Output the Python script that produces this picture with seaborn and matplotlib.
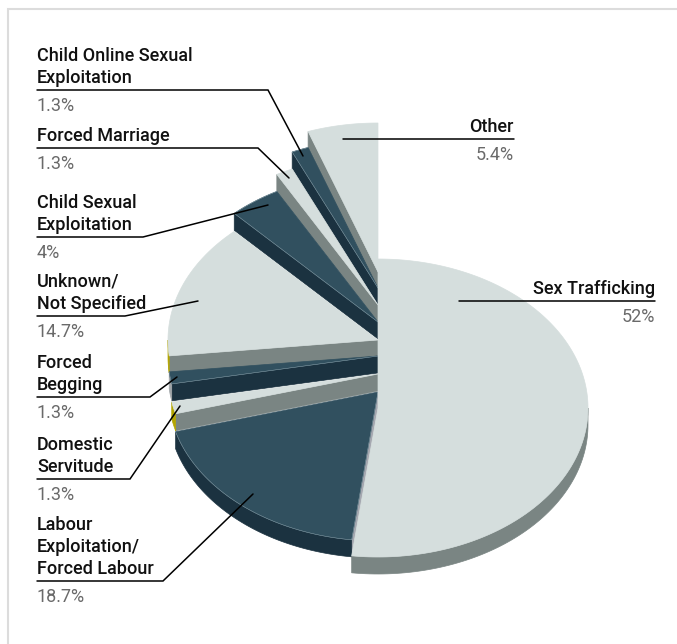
import numpy as np
import seaborn as sns
import matplotlib
matplotlib.use("Agg")
import matplotlib.pyplot as plt

sns.set_theme(style="white")
plt.rcParams["font.family"] = ["Roboto", "DejaVu Sans"]

# Shares in drawing order, clockwise from twelve o'clock
categories = ["Sex Trafficking", "Labour\nExploitation/\nForced Labour", "Domestic\nServitude",
              "Forced\nBegging", "Unknown/\nNot Specified", "Child Sexual\nExploitation",
              "Forced Marriage", "Child Online Sexual\nExploitation", "Other"]
shares = [52, 18.7, 1.3, 1.3, 14.7, 4, 1.3, 1.3, 5.4]
value_labels = ["52%", "18.7%", "1.3%", "1.3%", "14.7%", "4%", "1.3%", "1.3%", "5.4%"]

LIGHT, BLUE, GREY, DARK = "#d5dedd", "#31505f", "#7a8583", "#1b3240"
YELLOW, LILAC, EDGE = "#b3a500", "#a5a8b0", "#a0a5a8"

# Per-slice styling: top face, radial side, outer rim, apex height of the exploded wedge
top_colors = sns.color_palette([LIGHT, BLUE, LIGHT, BLUE, LIGHT, BLUE, LIGHT, BLUE, LIGHT])
side_colors = [GREY, LILAC, GREY, DARK, GREY, DARK, GREY, DARK, GREY]
rim_colors = [GREY, DARK, YELLOW, EDGE, YELLOW, DARK, GREY, DARK, GREY]
apex_y = [408, 392, 374, 356, 340, 322, 305, 288, 272]

APEX_X, RX, RY, DEPTH = 378, 210, 149, 17
SEAM = 0.5


def arc(a0, a1, y0, n=80):
    """Projected circle arc, angles in degrees clockwise from the top."""
    t = np.radians(np.linspace(a0, a1, n))
    return APEX_X + RX * np.sin(t), y0 - RY * np.cos(t)


def face(xs, ys, color, z):
    ax.fill(xs, ys, facecolor=color, edgecolor=color, lw=SEAM, zorder=z)


fig = plt.figure(figsize=(6.77, 6.44), dpi=100, facecolor="white")
ax = fig.add_axes([0, 0, 1, 1])
ax.set_xlim(0, 677)
ax.set_ylim(644, 0)
ax.axis("off")

# Frame along the top and left only
ax.plot([7.5, 7.5, 677], [644, 8.5, 8.5], color="#dcdcdc", lw=1.5, zorder=0,
        solid_joinstyle="miter")

# Wedge bounds derived from the shares
ends = np.cumsum(shares) * 3.6
starts = np.r_[0, ends[:-1]]

# Painted from the rear wedge to the front one
for i in range(len(shares) - 1, 0, -1):
    a0, a1, y0 = starts[i], ends[i], apex_y[i]
    z = 2 + (9 - i) * 2
    ex, ey = arc(a0, a0, y0, 2)
    face([APEX_X, ex[0], ex[0], APEX_X], [y0, ey[0], ey[0] + DEPTH, y0 + DEPTH], side_colors[i], z)
    # Outer rim, only where the arc faces the viewer
    hi = min(a1, 270)
    if a0 < hi:
        rx, ry = arc(a0, hi, y0)
        face(np.r_[rx, rx[::-1]], np.r_[ry, ry[::-1] + DEPTH], rim_colors[i], z)
    tx, ty = arc(a0, a1, y0)
    face(np.r_[APEX_X, tx], np.r_[y0, ty], top_colors[i], z + 1)
    if side_colors[i] in (DARK, LILAC):
        # Faint highlight along the outline of the blue faces
        ax.plot(np.r_[APEX_X, tx], np.r_[y0, ty], color="#8aa0aa", lw=0.35, zorder=z + 1)

# Largest wedge sits in front of everything
a0, a1, y0 = starts[0], ends[0], apex_y[0]
rx, ry = arc(90, a1, y0)
face(np.r_[rx, rx[::-1]], np.r_[ry, ry[::-1] + DEPTH], rim_colors[0], 30)
tx, ty = arc(a0, a1, y0, 200)
face(np.r_[APEX_X, tx], np.r_[y0, ty], top_colors[0], 31)

# Leader lines: category text sits above the rule, value text below it
leaders = [
    ([37, 268, 303], [90, 90, 156]),
    ([37, 258, 289], [148, 148, 178]),
    ([37, 143, 268], [237, 237, 205]),
    ([37, 125, 198], [316, 316, 301]),
    ([37, 150, 177], [397, 397, 377]),
    ([37, 130, 180], [479, 479, 406]),
    ([37, 163, 253], [581, 581, 494]),
    ([514, 343], [138.5, 138.5]),
    ([655, 459], [301, 301]),
]
for xs, ys in leaders:
    ax.plot(xs, ys, color="black", lw=1.1, zorder=40, solid_joinstyle="miter")

NAME_STYLE = dict(fontsize=13, color="#111111", weight="medium", linespacing=1.3, va="bottom", zorder=41)
VALUE_STYLE = dict(fontsize=13, color="#6a6a6a", weight="normal", va="top", zorder=41)

left_rules = {7: 90, 6: 148, 5: 237, 4: 316, 3: 397, 2: 479, 1: 581}
for i, y in left_rules.items():
    ax.text(37, y - 3, categories[i], ha="left", **NAME_STYLE)
    ax.text(37, y + 7, value_labels[i], ha="left", **VALUE_STYLE)

right_rules = {8: (514, 138.5), 0: (655, 301)}
for i, (x, y) in right_rules.items():
    ax.text(x, y - 3, categories[i], ha="right", **NAME_STYLE)
    ax.text(x, y + 7, value_labels[i], ha="right", **VALUE_STYLE)

fig.savefig("out.png", dpi=100, facecolor="white")
